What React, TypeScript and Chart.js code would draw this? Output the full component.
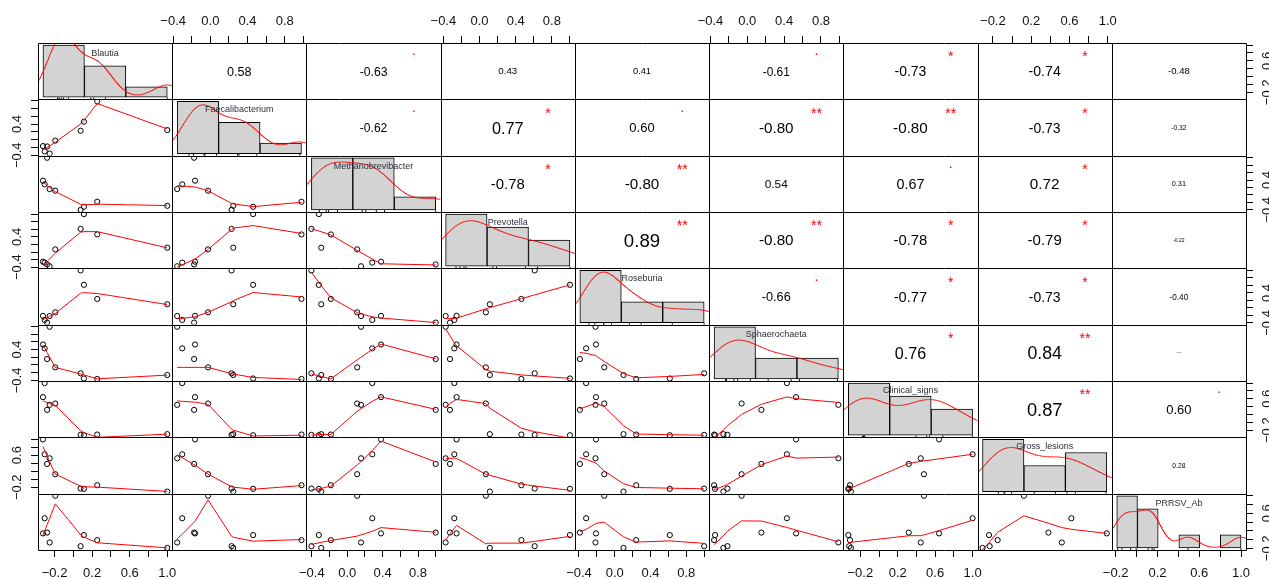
import React, { useEffect, useRef } from 'react';
import { Chart, registerables } from 'chart.js';

Chart.register(...registerables);

// ---------------- data ----------------
const variableNames = [
  'Blautia', 'Faecalibacterium', 'Methanobrevibacter', 'Prevotella', 'Roseburia',
  'Sphaerochaeta', 'Clinical_signs', 'Gross_lesions', 'PRRSV_Ab',
];

// nine samples, same order in every array
const blautia = [-0.324, -0.306, -0.280, -0.253, -0.193, 0.077, 0.112, 0.254, 1.000];
const faecalibacterium = [-0.165, -0.303, -0.175, -0.357, -0.025, 0.228, 0.460, 0.980, 0.246];
const methanobrevibacter = [0.382, 0.283, 1.000, 0.156, 0.112, -0.405, -0.321, -0.185, -0.294];
const prevotella = [-0.254, -0.279, -0.327, -0.375, 0.070, 0.610, 1.000, 0.463, 0.114];
const roseburia = [-0.210, -0.320, -0.390, -0.215, -0.117, 1.000, 0.616, 0.240, 0.098];
const sphaerochaeta = [0.530, 0.430, 0.153, 0.989, -0.062, -0.216, -0.350, -0.361, -0.260];
const clinicalSigns = [0.642, 1.000, 0.318, 0.446, 0.480, -0.318, -0.328, -0.310, -0.300];
const grossLesions = [0.990, 0.620, 0.380, 0.520, 0.124, -0.233, -0.240, -0.150, -0.308];
const prrsvAb = [0.141, 0.487, 0.160, -0.066, 1.000, -0.150, 0.103, -0.012, -0.190];

// histogram break points
const histBreaks = [-0.5, 0, 0.5, 1.0];
const prrsvBreaks = [-0.2, 0, 0.2, 0.4, 0.6, 0.8, 1.0];

// correlation texts (upper triangle), row by row
const corrRow1 = ['0.58', '-0.63', '0.43', '0.41', '-0.61', '-0.73', '-0.74', '-0.48'];
const corrRow2 = ['-0.62', '0.77', '0.60', '-0.80', '-0.80', '-0.73', '-0.32'];
const corrRow3 = ['-0.78', '-0.80', '0.54', '0.67', '0.72', '0.31'];
const corrRow4 = ['0.89', '-0.80', '-0.78', '-0.79', '-0.22'];
const corrRow5 = ['-0.66', '-0.77', '-0.73', '-0.40'];
const corrRow6 = ['0.76', '0.84', '0.06'];
const corrRow7 = ['0.87', '0.60'];
const corrRow8 = ['0.28'];

// significance symbols
const starsRow1 = ['', '.', '', '', '.', '*', '*', ''];
const starsRow2 = ['.', '*', '.', '**', '**', '*', ''];
const starsRow3 = ['*', '**', '', '.', '*', ''];
const starsRow4 = ['**', '**', '*', '*', ''];
const starsRow5 = ['.', '*', '*', ''];
const starsRow6 = ['*', '**', ''];
const starsRow7 = ['**', '.'];
const starsRow8 = [''];

// ---------------- helpers ----------------
const series = [blautia, faecalibacterium, methanobrevibacter, prevotella, roseburia, sphaerochaeta, clinicalSigns, grossLesions, prrsvAb];
const breaksOf = [histBreaks, histBreaks, histBreaks, histBreaks, histBreaks, histBreaks, histBreaks, histBreaks, prrsvBreaks];
const corrRows = [corrRow1, corrRow2, corrRow3, corrRow4, corrRow5, corrRow6, corrRow7, corrRow8];
const starRows = [starsRow1, starsRow2, starsRow3, starsRow4, starsRow5, starsRow6, starsRow7, starsRow8];
const N = variableNames.length;

const FONT = "'Liberation Sans', Arial, Helvetica, sans-serif";
const W = 1269, H = 579;
const LEFT_W = 30, RIGHT_W = 23, TOP_H = 35, BOTTOM_H = 29;
const TICK_LEN = 7;

function rangeOf(v: number[]) {
  const mn = Math.min(...v), mx = Math.max(...v), d = mx - mn;
  return { min: mn - 0.04 * d, max: mx + 0.04 * d };
}

function gridTicks(min: number, max: number) {
  const out: { value: number }[] = [];
  for (let k = Math.ceil(min / 0.2 - 1e-9); k * 0.2 <= max + 1e-9; k++) {
    out.push({ value: Math.round(k * 2) / 10 });
  }
  return out;
}

function fmtTick(v: number) {
  const s = (Math.abs(v) < 1e-9 ? 0 : v).toFixed(1);
  return s.replace('-', '\u2212');
}

function quantile7(v: number[], p: number) {
  const s = [...v].sort((a, b) => a - b);
  const h = (s.length - 1) * p;
  const lo = Math.floor(h);
  const hi = Math.min(lo + 1, s.length - 1);
  return s[lo] + (h - lo) * (s[hi] - s[lo]);
}

function bwNrd0(v: number[]) {
  const n = v.length;
  const mean = v.reduce((a, b) => a + b, 0) / n;
  const sd = Math.sqrt(v.reduce((a, b) => a + (b - mean) * (b - mean), 0) / (n - 1));
  const iqr = quantile7(v, 0.75) - quantile7(v, 0.25);
  let lo = Math.min(sd, iqr / 1.34);
  if (!(lo > 0)) lo = sd || Math.abs(v[0]) || 1;
  return 0.9 * lo * Math.pow(n, -0.2);
}

function densityCurve(v: number[]) {
  const bw = bwNrd0(v);
  const lo = Math.min(...v) - 3 * bw, hi = Math.max(...v) + 3 * bw;
  const m = 512;
  const pts: { x: number; y: number }[] = [];
  const c = 1 / (v.length * bw * Math.sqrt(2 * Math.PI));
  for (let k = 0; k < m; k++) {
    const t = lo + ((hi - lo) * k) / (m - 1);
    let s = 0;
    for (const x of v) {
      const z = (t - x) / bw;
      s += Math.exp(-0.5 * z * z);
    }
    pts.push({ x: t, y: s * c });
  }
  return pts;
}

function histCounts(v: number[], br: number[]) {
  const counts = new Array(br.length - 1).fill(0);
  for (const x of v) {
    for (let k = 0; k < br.length - 1; k++) {
      if ((x > br[k] || (k === 0 && x >= br[k])) && x <= br[k + 1] + 1e-12) {
        counts[k]++;
        break;
      }
    }
  }
  return counts;
}

// R's clowess
function lowest(x: number[], y: number[], n: number, xs: number, nleft: number, nright: number,
  w: number[], userw: boolean, rw: number[]) {
  const range = x[n - 1] - x[0];
  const h = Math.max(xs - x[nleft], x[nright] - xs);
  const h9 = 0.999 * h, h1 = 0.001 * h;
  let a = 0;
  let j = nleft;
  while (j < n) {
    w[j] = 0;
    const r = Math.abs(x[j] - xs);
    if (r <= h9) {
      if (r <= h1) w[j] = 1;
      else w[j] = Math.pow(1 - Math.pow(r / h, 3), 3);
      if (userw) w[j] *= rw[j];
      a += w[j];
    } else if (x[j] > xs) break;
    j++;
  }
  const nrt = j - 1;
  if (a <= 0) return { ok: false, ys: 0 };
  for (j = nleft; j <= nrt; j++) w[j] /= a;
  if (h > 0) {
    a = 0;
    for (j = nleft; j <= nrt; j++) a += w[j] * x[j];
    let b = xs - a;
    let c = 0;
    for (j = nleft; j <= nrt; j++) c += w[j] * (x[j] - a) * (x[j] - a);
    if (Math.sqrt(c) > 0.001 * range) {
      b /= c;
      for (j = nleft; j <= nrt; j++) w[j] *= b * (x[j] - a) + 1;
    }
  }
  let ys = 0;
  for (j = nleft; j <= nrt; j++) ys += w[j] * y[j];
  return { ok: true, ys };
}

function lowess(xIn: number[], yIn: number[], f = 2 / 3, iterations = 3) {
  const n = xIn.length;
  const order = [...Array(n).keys()].sort((a, b) => xIn[a] - xIn[b]);
  const x = order.map((i) => xIn[i]);
  const y = order.map((i) => yIn[i]);
  const delta = 0.01 * (x[n - 1] - x[0]);
  const ys = new Array(n).fill(0);
  const rw = new Array(n).fill(1);
  const res = new Array(n).fill(0);
  const w = new Array(n).fill(0);
  const ns = Math.max(2, Math.min(n, Math.floor(f * n + 1e-7)));
  for (let iter = 1; iter <= iterations + 1; iter++) {
    let nleft = 0, nright = ns - 1, last = -1, i = 0;
    for (;;) {
      if (nright < n - 1) {
        const d1 = x[i] - x[nleft], d2 = x[nright + 1] - x[i];
        if (d1 > d2) { nleft++; nright++; continue; }
      }
      const r = lowest(x, y, n, x[i], nleft, nright, w, iter > 1, rw);
      ys[i] = r.ok ? r.ys : y[i];
      if (last < i - 1) {
        const denom = x[i] - x[last];
        for (let j = last + 1; j < i; j++) {
          const alpha = (x[j] - x[last]) / denom;
          ys[j] = alpha * ys[i] + (1 - alpha) * ys[last];
        }
      }
      last = i;
      const cut = x[last] + delta;
      for (i = last + 1; i < n; i++) {
        if (x[i] > cut) break;
        if (x[i] === x[last]) { ys[i] = ys[last]; last = i; }
      }
      i = Math.max(last + 1, i - 1);
      if (last >= n - 1) break;
    }
    for (let k = 0; k < n; k++) res[k] = y[k] - ys[k];
    const sc = res.reduce((s, v) => s + Math.abs(v), 0) / n;
    if (iter > iterations) break;
    for (let k = 0; k < n; k++) rw[k] = Math.abs(res[k]);
    const sorted = [...rw].sort((a, b) => a - b);
    const m1 = Math.floor(n / 2);
    const cmad = n % 2 === 0 ? 3 * (sorted[m1] + sorted[m1 - 1]) : 6 * sorted[m1];
    if (cmad < 1e-7 * sc) break;
    const c9 = 0.999 * cmad, c1 = 0.001 * cmad;
    for (let k = 0; k < n; k++) {
      const r = Math.abs(res[k]);
      if (r <= c1) rw[k] = 1;
      else if (r <= c9) rw[k] = Math.pow(1 - Math.pow(r / cmad, 2), 2);
      else rw[k] = 0;
    }
  }
  return x.map((xv, k) => ({ x: xv, y: ys[k] }));
}

function corFontSize(txt: string) {
  const r = Math.abs(parseFloat(txt));
  const s = 1.3 + 19.5 * r;
  return txt.startsWith('-') ? s * 0.9 : s;
}

function drawCentered(ctx: CanvasRenderingContext2D, text: string, cx: number, cy: number, size: number, color: string) {
  ctx.font = `${size}px ${FONT}`;
  ctx.fillStyle = color;
  ctx.textAlign = 'center';
  ctx.textBaseline = 'alphabetic';
  const m = ctx.measureText(text);
  const asc = m.actualBoundingBoxAscent || 0;
  const desc = m.actualBoundingBoxDescent || 0;
  ctx.fillText(text, cx, cy + (asc - desc) / 2);
}

// ---------------- chart config ----------------
function buildConfig() {
  const ranges = series.map(rangeOf);
  const tickFont = { family: FONT, size: 13 };
  const scales: any = {};

  const axisX = (pos: 'top' | 'bottom', stack: string, weight: number, r: { min: number; max: number }, show: boolean) => ({
    type: 'linear', axis: 'x', position: pos, stack, stackWeight: 1, weight,
    min: r.min, max: r.max, bounds: 'data', offset: false,
    afterBuildTicks: (s: any) => { s.ticks = gridTicks(r.min, r.max); },
    afterFit: (s: any) => { s.height = pos === 'top' ? TOP_H : BOTTOM_H; },
    grid: { display: show, drawOnChartArea: false, drawTicks: true, tickLength: TICK_LEN, color: '#000', lineWidth: 1, offset: false },
    border: { display: false },
    ticks: {
      display: show, autoSkip: false, maxRotation: 0, minRotation: 0,
      padding: pos === 'top' ? 6.5 : 8.7, color: '#111', font: tickFont,
      callback: (v: number, i: number) => (i % 2 === 0 ? fmtTick(v) : ''),
    },
  });

  const axisY = (pos: 'left' | 'right', stack: string, weight: number, r: { min: number; max: number }, show: boolean) => ({
    type: 'linear', axis: 'y', position: pos, stack, stackWeight: 1, weight,
    min: r.min, max: r.max, bounds: 'data',
    afterBuildTicks: (s: any) => { s.ticks = gridTicks(r.min, r.max); },
    afterFit: (s: any) => { s.width = pos === 'left' ? LEFT_W : RIGHT_W; },
    grid: { display: show, drawOnChartArea: false, drawTicks: true, tickLength: TICK_LEN, color: '#000', lineWidth: 1 },
    border: { display: false },
    ticks: {
      display: show, autoSkip: false, minRotation: 90, maxRotation: 90, crossAlign: 'center',
      padding: pos === 'left' ? 1 : 2, color: '#111', font: tickFont,
      callback: (v: number, i: number) => (i === 0 || i === 4 ? fmtTick(v) : ''),
    },
  });

  const datasets: any[] = [];
  const panels: ([number, number] | null)[] = [];

  for (let j = 0; j < N; j++) {
    const r = ranges[j];
    scales['x' + j] = axisX('bottom', 'B', j, r, j % 2 === 0);
    scales['xt' + j] = axisX('top', 'T', 100 - j, r, j % 2 === 1);
    scales['y' + j] = axisY('left', 'L', 100 - j, r, j % 2 === 1);
    scales['yr' + j] = axisY('right', 'R', j, r, j % 2 === 0);

    // histogram coordinate system of the diagonal panel
    const br = breaksOf[j];
    const counts = histCounts(series[j], br);
    const n = series[j].length;
    const dens = counts.map((c, k) => c / (n * (br[k + 1] - br[k])));
    const maxD = Math.max(...dens);
    const bSpan = br[br.length - 1] - br[0];
    const hxMin = br[0] - 0.04 * bSpan, hxMax = br[br.length - 1] + 0.04 * bSpan;
    const hyMin = -0.04 * maxD, hyMax = 1.04 * maxD;
    scales['hx' + j] = {
      type: 'linear', axis: 'x', position: 'bottom', stack: 'HB', stackWeight: 1, weight: j,
      display: false, bounds: 'data', min: hxMin, max: hxMax, offset: false, grid: { offset: false },
      afterBuildTicks: (s: any) => { s.ticks = br.map((v) => ({ value: v })); },
    };
    scales['hy' + j] = {
      type: 'linear', axis: 'y', position: 'left', stack: 'HL', stackWeight: 1, weight: 100 - j,
      display: false, bounds: 'data', min: hyMin, max: hyMax, beginAtZero: false,
    };

    datasets.push({
      type: 'bar', xAxisID: 'hx' + j, yAxisID: 'hy' + j, order: 3,
      data: dens.map((d, k) => ({ x: (br[k] + br[k + 1]) / 2, y: d })),
      backgroundColor: '#d3d3d3', borderColor: '#000', borderWidth: 1, borderSkipped: false,
      barPercentage: 1, categoryPercentage: 1, grouped: false,
    });
    panels.push([j, j]);
    datasets.push({
      type: 'line', xAxisID: 'hx' + j, yAxisID: 'hy' + j, order: 1,
      data: densityCurve(series[j]), borderColor: '#ff0000', borderWidth: 1, pointRadius: 0, fill: false, tension: 0,
    });
    panels.push([j, j]);
    datasets.push({
      type: 'scatter', xAxisID: 'hx' + j, yAxisID: 'hy' + j, order: 0,
      data: series[j].map((v) => ({ x: v, y: hyMin })),
      pointStyle: 'line', pointRotation: 90, pointRadius: 1.8, pointHoverRadius: 1.8,
      pointBorderColor: '#000', pointBorderWidth: 1, showLine: false,
    });
    panels.push([j, j]);
  }

  for (let i = 0; i < N; i++) {
    for (let j = 0; j < i; j++) {
      const xs = series[j], ys = series[i];
      datasets.push({
        type: 'scatter', xAxisID: 'x' + j, yAxisID: 'y' + i, order: 2,
        data: xs.map((v, k) => ({ x: v, y: ys[k] })),
        pointRadius: 2.6, pointHoverRadius: 2.6, pointBorderWidth: 1,
        pointBorderColor: '#000', pointBackgroundColor: 'rgba(0,0,0,0)', showLine: false,
      });
      panels.push([i, j]);
      datasets.push({
        type: 'line', xAxisID: 'x' + j, yAxisID: 'y' + i, order: 1,
        data: lowess(xs, ys), borderColor: '#ff0000', borderWidth: 1, pointRadius: 0, fill: false, tension: 0,
      });
      panels.push([i, j]);
    }
  }

  const plugin = {
    id: 'pairsMatrix',
    beforeDatasetDraw(chart: any, args: any) {
      const p = panels[args.index];
      if (!p) return;
      const sx = chart.scales['x' + p[1]], sy = chart.scales['y' + p[0]];
      const ctx = chart.ctx;
      ctx.save();
      ctx.beginPath();
      ctx.rect(sx.left, sy.top, sx.right - sx.left, sy.bottom - sy.top);
      ctx.clip();
    },
    afterDatasetDraw(chart: any, args: any) {
      if (panels[args.index]) chart.ctx.restore();
    },
    afterDatasetsDraw(chart: any) {
      const ctx: CanvasRenderingContext2D = chart.ctx;
      const colX: number[] = [], rowY: number[] = [];
      for (let k = 0; k < N; k++) {
        colX.push(chart.scales['x' + k].left);
        rowY.push(chart.scales['y' + k].top);
      }
      colX.push(chart.scales['x' + (N - 1)].right);
      rowY.push(chart.scales['y' + (N - 1)].bottom);
      ctx.save();
      // variable names on the diagonal
      for (let k = 0; k < N; k++) {
        const cx = (colX[k] + colX[k + 1]) / 2;
        const cy = rowY[k + 1] - (5 / 6) * (rowY[k + 1] - rowY[k]);
        drawCentered(ctx, variableNames[k], cx, cy, 9, '#2b2f3a');
      }
      // correlation texts
      for (let i = 0; i < N; i++) {
        for (let j = i + 1; j < N; j++) {
          const txt = corrRows[i][j - i - 1];
          const st = starRows[i][j - i - 1];
          const l = colX[j], r = colX[j + 1], t = rowY[i], b = rowY[i + 1];
          drawCentered(ctx, txt, (l + r) / 2, (t + b) / 2, corFontSize(txt), '#000');
          if (st) drawCentered(ctx, st, l + 0.8 * (r - l), b - 0.8 * (b - t), 14, '#ff0000');
        }
      }
      // panel boxes
      ctx.strokeStyle = '#000';
      ctx.lineWidth = 1;
      ctx.beginPath();
      const x0 = Math.round(colX[0]) + 0.5, x1 = Math.round(colX[N]) + 0.5;
      const y0 = Math.round(rowY[0]) + 0.5, y1 = Math.round(rowY[N]) + 0.5;
      for (const x of colX) {
        const px = Math.round(x) + 0.5;
        ctx.moveTo(px, y0);
        ctx.lineTo(px, y1);
      }
      for (const y of rowY) {
        const py = Math.round(y) + 0.5;
        ctx.moveTo(x0, py);
        ctx.lineTo(x1, py);
      }
      ctx.stroke();
      ctx.restore();
    },
  };

  return {
    type: 'scatter',
    data: { datasets },
    options: {
      animation: false,
      responsive: false,
      maintainAspectRatio: false,
      events: [],
      layout: { padding: { left: 8, top: 8, right: 0, bottom: 0 } },
      plugins: { legend: { display: false }, tooltip: { enabled: false } },
      scales,
    },
    plugins: [plugin],
  };
}

export default function App() {
  const ref = useRef<HTMLCanvasElement | null>(null);
  useEffect(() => {
    if (!ref.current) return;
    const chart = new Chart(ref.current, buildConfig() as any);
    return () => chart.destroy();
  }, []);
  return (
    <div style={{ position: 'fixed', left: 0, top: 0, width: W, height: H, overflow: 'hidden', background: '#fff' }}>
      <canvas ref={ref} width={W} height={H} style={{ display: 'block', width: W, height: H }} />
    </div>
  );
}
